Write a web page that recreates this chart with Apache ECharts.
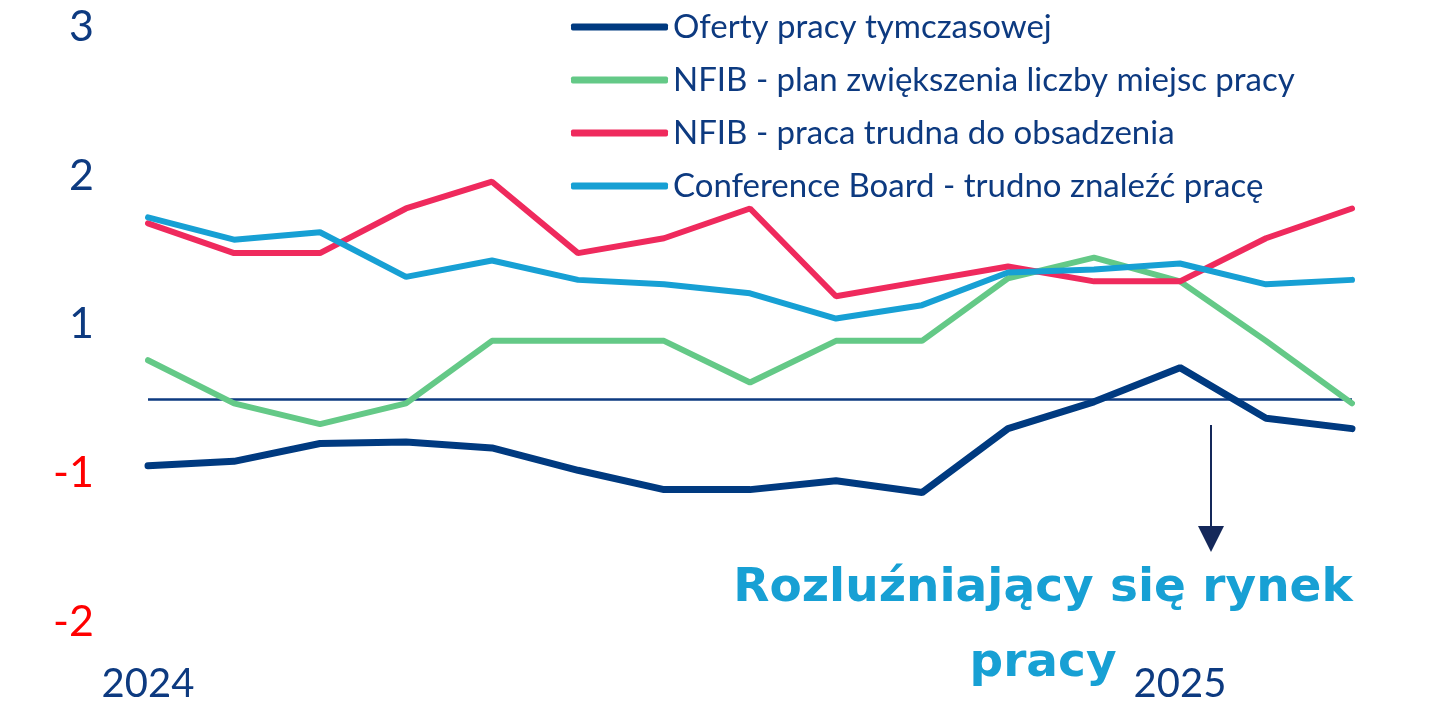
<!DOCTYPE html>
<html>
<head>
<meta charset="utf-8">
<script src="https://cdn.jsdelivr.net/npm/echarts@6/dist/echarts.min.js"></script>
<style>
  html, body { margin: 0; padding: 0; background: #ffffff; }
  #chart { width: 1429px; height: 715px; }
</style>
</head>
<body>
<div id="chart"></div>
<script>
const months = [
  "2024-01", "2024-02", "2024-03", "2024-04", "2024-05", "2024-06", "2024-07", "2024-08",
  "2024-09", "2024-10", "2024-11", "2024-12", "2025-01", "2025-02", "2025-03",
];

const seriesNames = [
  "Oferty pracy tymczasowej",
  "NFIB - plan zwiększenia liczby miejsc pracy",
  "NFIB - praca trudna do obsadzenia",
  "Conference Board - trudno znaleźć pracę",
];

const tempJobOffers = [0.05, 0.08, 0.20, 0.21, 0.17, 0.02, -0.11, -0.11, -0.05, -0.13, 0.30, 0.48, 0.71, 0.37, 0.30];
const nfibHiringPlans = [0.76, 0.47, 0.33, 0.47, 0.89, 0.89, 0.89, 0.61, 0.89, 0.89, 1.31, 1.45, 1.29, 0.89, 0.47];
const nfibHardToFill = [1.68, 1.48, 1.48, 1.78, 1.96, 1.48, 1.58, 1.78, 1.19, 1.29, 1.39, 1.29, 1.29, 1.58, 1.78];
const cbJobsHardToGet = [1.72, 1.57, 1.62, 1.32, 1.43, 1.30, 1.27, 1.21, 1.04, 1.13, 1.35, 1.37, 1.41, 1.27, 1.30];

// axis positions carry these printed labels (the chart skips "0")
const yTickLabels = { 3: "3", 2: "2", 1: "1", 0: "-1", "-1": "-2" };
const referenceLevel = 0.5;
const annotation = "Rozluźniający się rynek\npracy";

const colors = ["#003a80", "#64c987", "#ef2a5d", "#17a0d4"];
const navy = "#0d3a80";
const font = "Lato, sans-serif";

const chart = echarts.init(document.getElementById("chart"));

const lineSeries = [tempJobOffers, nfibHiringPlans, nfibHardToFill, cbJobsHardToGet].map((values, index) => ({
  name: seriesNames[index],
  type: "line",
  data: values,
  showSymbol: false,
  symbol: "none",
  lineStyle: { width: index === 0 ? 7 : 6, color: colors[index], cap: "round" },
  itemStyle: { color: colors[index] },
  z: 3 + index,
  markLine: index === 0
    ? {
        silent: true,
        symbol: "none",
        label: { show: false },
        lineStyle: { color: navy, width: 2.5, type: "solid" },
        data: [{ yAxis: referenceLevel }],
        z: 2,
      }
    : undefined,
}));

chart.setOption({
  animation: false,
  backgroundColor: "#ffffff",
  textStyle: { fontFamily: font },
  grid: { left: 148, right: 77, top: 27, bottom: 93 },
  legend: {
    orient: "vertical",
    left: 566,
    top: 3,
    icon: "roundRect",
    itemWidth: 97,
    itemHeight: 7,
    itemGap: 15,
    data: seriesNames,
    textStyle: { color: navy, fontSize: 33, fontFamily: font, lineHeight: 38, padding: [0, 0, 0, 0] },
  },
  xAxis: {
    type: "category",
    data: months,
    boundaryGap: false,
    axisLine: { show: false },
    axisTick: { show: false },
    splitLine: { show: false },
    axisLabel: {
      interval: 0,
      margin: 42,
      color: navy,
      fontSize: 40,
      fontFamily: font,
      formatter: (value) => (value.endsWith("-01") ? value.slice(0, 4) : ""),
    },
  },
  yAxis: {
    type: "value",
    min: -1,
    max: 3,
    interval: 1,
    axisLine: { show: false },
    axisTick: { show: false },
    splitLine: { show: false },
    axisLabel: {
      margin: 54,
      fontSize: 43,
      fontFamily: font,
      color: (value) => (value <= 0 ? "#ff0000" : navy),
      formatter: (value) => yTickLabels[value] ?? "",
    },
  },
  graphic: [
    {
      type: "line",
      shape: { x1: 1211, y1: 425, x2: 1211, y2: 528 },
      style: { stroke: "#14285a", lineWidth: 2 },
      silent: true,
    },
    {
      type: "polygon",
      shape: { points: [[1198, 526], [1224, 526], [1211, 552]] },
      style: { fill: "#14285a" },
      silent: true,
    },
    {
      type: "text",
      x: 1043,
      y: 551,
      style: {
        text: annotation,
        align: "center",
        verticalAlign: "top",
        fill: "#17a0d4",
        font: "bold 47px 'DejaVu Sans', sans-serif",
        lineHeight: 75,
      },
      silent: true,
    },
  ],
  series: lineSeries,
});
</script>
</body>
</html>
